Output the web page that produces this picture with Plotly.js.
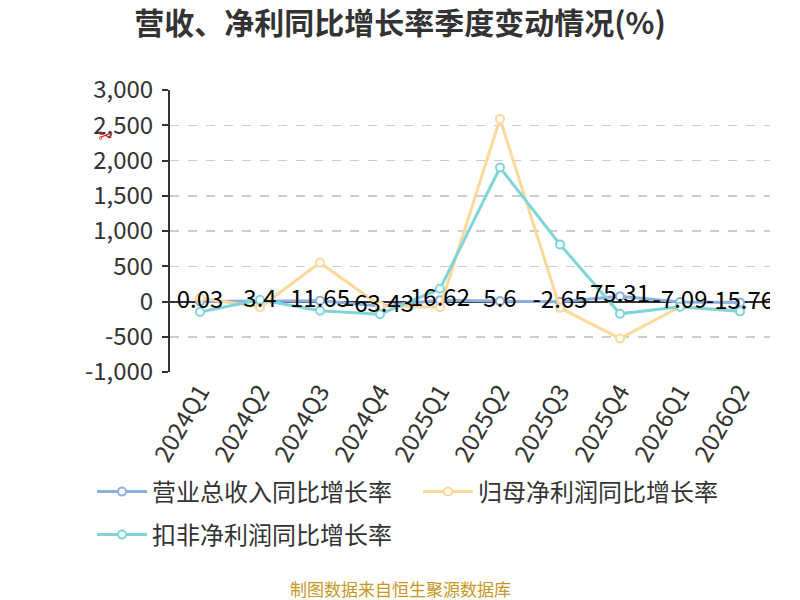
<!DOCTYPE html>
<html>
<head>
<meta charset="utf-8">
<script src="https://cdn.plot.ly/plotly-3.0.1.min.js"></script>
<style>
  html, body { margin: 0; padding: 0; background: #fff; }
  #chart { width: 800px; height: 600px; }
</style>
</head>
<body>
<div id="chart"></div>
<script>
/***********
  DATA
************/

// Quarters on the x axis
const quarters = ['2024Q1', '2024Q2', '2024Q3', '2024Q4', '2025Q1', '2025Q2', '2025Q3', '2025Q4', '2026Q1', '2026Q2'];

// 营业总收入同比增长率 (labelled on the chart)
const revenueGrowth = [0.03, 3.4, 11.65, -63.43, 16.62, 5.6, -2.65, 75.31, -7.09, -15.76];

// 归母净利润同比增长率
const netProfitGrowth = [50, -80, 550, -60, -80, 2590, -90, -525, -75, -140];

// 扣非净利润同比增长率
const deductedProfitGrowth = [-150, 25, -130, -180, 180, 1900, 810, -175, -75, -140];

// Series names
const seriesNames = ['营业总收入同比增长率', '归母净利润同比增长率', '扣非净利润同比增长率'];

// Y axis ticks
const yTickVals = [-1000, -500, 0, 500, 1000, 1500, 2000, 2500, 3000];
const yTickText = ['-1,000', '-500', '0', '500', '1,000', '1,500', '2,000', '2,500', '3,000'];

/***********
  CHART
************/

const FONT = '"Noto Sans CJK SC", "Noto Sans", sans-serif';
const colors = ['#8eb0e1', '#fdd89b', '#7fd5d8'];

// Plot area in pixels (top / bottom) used to place the notes
const PLOT_TOP = 90, PLOT_BOTTOM = 372;

// One line + hollow marker trace
function lineTrace(name, values, color, legendId) {
  return {
    type: 'scatter',
    mode: 'lines+markers',
    name: name,
    x: quarters,
    y: values,
    legend: legendId,
    line: { color: color, width: 3 },
    marker: { symbol: 'circle', size: 8, color: '#ffffff', line: { color: color, width: 2 } },
    hoverinfo: 'x+y'
  };
}

// One legend box per series, placed by its left edge and middle (px)
function legendAt(left, middle) {
  return {
    orientation: 'h',
    xref: 'container',
    yref: 'container',
    x: left / 800,
    y: 1 - middle / 600,
    xanchor: 'left',
    yanchor: 'middle',
    font: { family: FONT, size: 24, color: '#333333' },
    bgcolor: 'rgba(0,0,0,0)',
    itemwidth: 50
  };
}

function drawChart() {
  let revenueLine = lineTrace(seriesNames[0], revenueGrowth, colors[0], 'legend');
  let profitLine = lineTrace(seriesNames[1], netProfitGrowth, colors[1], 'legend2');
  let deductedLine = lineTrace(seriesNames[2], deductedProfitGrowth, colors[2], 'legend3');

  // Value labels of the revenue series, drawn above every line
  let revenueLabels = {
    type: 'scatter',
    mode: 'text',
    x: quarters,
    y: revenueGrowth,
    text: revenueGrowth.map(String),
    textposition: 'middle center',
    textfont: { family: FONT, size: 24, color: '#000000' },
    showlegend: false,
    hoverinfo: 'skip'
  };

  let plotData = [revenueLine, profitLine, deductedLine, revenueLabels];

  let plotH = PLOT_BOTTOM - PLOT_TOP;

  let layout = {
    width: 800,
    height: 600,
    paper_bgcolor: '#ffffff',
    plot_bgcolor: '#ffffff',
    margin: { l: 170, r: 30, t: PLOT_TOP, b: 600 - PLOT_BOTTOM },
    font: { family: FONT, color: '#333333' },
    title: {
      text: '<b>营收、净利同比增长率季度变动情况(%)</b>',
      font: { family: FONT, size: 30, color: '#333333' },
      x: 0.5,
      xanchor: 'center',
      y: 1 - 23 / 600,
      yanchor: 'middle'
    },
    xaxis: {
      type: 'category',
      range: [-0.5, quarters.length - 0.5],
      tickangle: -60,
      tickfont: { family: FONT, size: 24, color: '#333333' },
      showgrid: false,
      showline: false,
      ticks: '',
      zeroline: false,
      fixedrange: true
    },
    yaxis: {
      range: [-1000, 3000],
      tickvals: yTickVals,
      ticktext: yTickText,
      tickfont: { family: FONT, size: 24, color: '#333333' },
      ticklabelstandoff: 4,
      showline: true,
      linecolor: '#333333',
      linewidth: 2,
      ticks: 'outside',
      ticklen: 6,
      tickwidth: 2,
      tickcolor: '#333333',
      showgrid: true,
      gridcolor: '#cccccc',
      gridwidth: 1.5,
      griddash: 'dash',
      zeroline: true,
      zerolinecolor: '#333333',
      zerolinewidth: 2,
      fixedrange: true
    },
    legend: legendAt(92, 492),
    legend2: legendAt(418, 492),
    legend3: legendAt(92, 535),
    annotations: [
      {
        text: '制图数据来自恒生聚源数据库',
        xref: 'paper',
        yref: 'paper',
        x: (400 - 170) / 600,
        y: (PLOT_BOTTOM - 588) / plotH,
        xanchor: 'center',
        yanchor: 'middle',
        showarrow: false,
        font: { family: FONT, size: 17, color: '#c8961e' }
      },
      {
        text: '✂',
        xref: 'paper',
        yref: 'paper',
        x: -0.108,
        y: (2360 + 1000) / 4000,
        xanchor: 'center',
        yanchor: 'middle',
        showarrow: false,
        font: { family: 'DejaVu Sans', size: 18, color: '#e02020' }
      }
    ],
    showlegend: true
  };

  Plotly.newPlot('chart', plotData, layout, { displayModeBar: false, staticPlot: true });
}

drawChart();
</script>
</body>
</html>
